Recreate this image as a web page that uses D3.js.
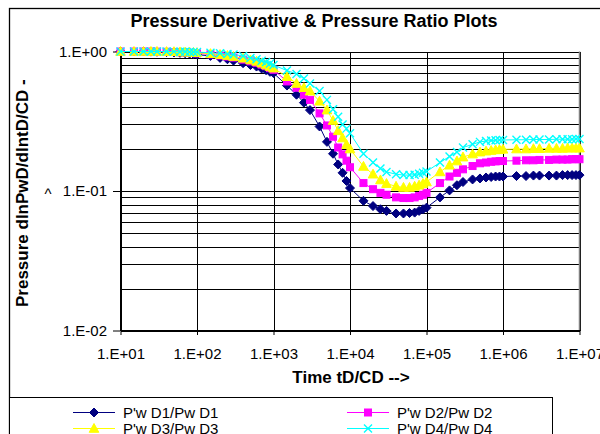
<!DOCTYPE html>
<html>
<head>
<meta charset="utf-8">
<script src="https://cdn.jsdelivr.net/npm/d3@7"></script>
<style>
  body { margin: 0; background: #fff; }
  svg text { font-family: "Liberation Sans", Arial, sans-serif; fill: #000; }
</style>
</head>
<body>
<div id="chart"></div>
<script>

// time tD/CD
var times = [
  10, 15, 20, 25, 30, 40, 50, 60, 70, 80, 90,
  100, 150, 200, 250, 300, 400, 500, 600, 700, 800, 900,
  1000, 1500, 2000, 2500, 3000, 4000, 5000, 6000, 7000, 8000, 9000,
  1e4, 1.5e4, 2e4, 2.5e4, 3e4, 4e4, 5e4, 6e4, 7e4, 8e4, 9e4,
  1e5, 1.5e5, 2e5, 2.5e5, 3e5, 4e5, 5e5, 6e5, 7e5, 8e5, 9e5,
  1e6, 1.5e6, 2e6, 2.5e6, 3e6, 4e6, 5e6, 6e6, 7e6, 8e6, 9e6,
  1e7
];

var pwD1 = [
  1.0, 1.0, 1.0, 0.998, 0.996, 0.99, 0.985, 0.978, 0.972, 0.966, 0.96,
  0.95, 0.93, 0.9, 0.88, 0.86, 0.825, 0.8, 0.78, 0.755, 0.735, 0.715,
  0.70, 0.57, 0.49, 0.43, 0.38, 0.29, 0.225, 0.185, 0.155, 0.135, 0.118,
  0.105, 0.085, 0.078, 0.074, 0.072, 0.069, 0.069, 0.0695, 0.070, 0.072, 0.074,
  0.076, 0.090, 0.101, 0.110, 0.116, 0.121, 0.123, 0.125, 0.126, 0.127, 0.127,
  0.127, 0.128, 0.128, 0.129, 0.129, 0.129, 0.129, 0.13, 0.13, 0.13, 0.13,
  0.13
];

var pwD2 = [
  1.0, 1.0, 1.0, 1.0, 0.998, 0.995, 0.992, 0.988, 0.984, 0.98, 0.975,
  0.97, 0.955, 0.935, 0.92, 0.905, 0.875, 0.85, 0.83, 0.805, 0.785, 0.76,
  0.74, 0.61, 0.55, 0.49, 0.45, 0.36, 0.295, 0.245, 0.205, 0.183, 0.165,
  0.148, 0.114, 0.103, 0.097, 0.094, 0.090, 0.089, 0.089, 0.090, 0.092, 0.094,
  0.097, 0.114, 0.127, 0.135, 0.143, 0.151, 0.158, 0.160, 0.162, 0.163, 0.164,
  0.164, 0.165, 0.166, 0.166, 0.167, 0.167, 0.168, 0.168, 0.168, 0.169, 0.169,
  0.169
];

var pwD3 = [
  1.0, 1.0, 1.0, 1.0, 1.0, 0.998, 0.996, 0.993, 0.99, 0.987, 0.984,
  0.98, 0.965, 0.95, 0.935, 0.92, 0.895, 0.87, 0.85, 0.825, 0.80, 0.78,
  0.76, 0.66, 0.59, 0.55, 0.52, 0.44, 0.38, 0.32, 0.27, 0.24, 0.215,
  0.20, 0.15, 0.132, 0.12, 0.113, 0.108, 0.106, 0.106, 0.108, 0.110, 0.113,
  0.116, 0.137, 0.153, 0.164, 0.175, 0.184, 0.190, 0.193, 0.195, 0.197, 0.198,
  0.199, 0.2, 0.2, 0.201, 0.201, 0.202, 0.202, 0.202, 0.203, 0.203, 0.203,
  0.203
];

var pwD4 = [
  1.0, 1.0, 1.0, 1.0, 1.0, 1.0, 0.998, 0.997, 0.995, 0.993, 0.991,
  0.99, 0.98, 0.97, 0.96, 0.95, 0.93, 0.90, 0.88, 0.86, 0.84, 0.82,
  0.80, 0.73, 0.69, 0.64, 0.59, 0.52, 0.45, 0.385, 0.34, 0.30, 0.28,
  0.259, 0.185, 0.16, 0.145, 0.137, 0.132, 0.130, 0.130, 0.131, 0.133, 0.135,
  0.138, 0.16, 0.177, 0.19, 0.205, 0.216, 0.225, 0.228, 0.23, 0.231, 0.232,
  0.232, 0.233, 0.233, 0.234, 0.234, 0.234, 0.235, 0.235, 0.235, 0.235, 0.236,
  0.236
];

var seriesNames = ["P'w D1/Pw D1", "P'w D2/Pw D2", "P'w D3/Pw D3", "P'w D4/Pw D4"];
var seriesColors = ["#000080", "#ff00ff", "#ffff00", "#00ffff"];
var seriesMarkers = ["diamond", "square", "triangle", "cross"];

var xTicks = [1e1, 1e2, 1e3, 1e4, 1e5, 1e6, 1e7];
var xTickLabels = ["1.E+01", "1.E+02", "1.E+03", "1.E+04", "1.E+05", "1.E+06", "1.E+07"];
var yTicks = [1, 0.1, 0.01];
var yTickLabels = ["1.E+00", "1.E-01", "1.E-02"];

var allSeries = [pwD1, pwD2, pwD3, pwD4];

// svg
var width = 600, height = 434;
var svg = d3.select('#chart')
  .append('svg')
  .attr('width', width)
  .attr('height', height);

// outer chart frame
svg.append('rect')
  .attr('x', 9.5).attr('y', 8.5)
  .attr('width', 700).attr('height', 600)
  .attr('fill', 'none')
  .attr('stroke', '#000')
  .attr('stroke-width', 1.3);

var x = d3.scaleLog().domain([10, 1e7]).range([120.5, 579.5]);
var y = d3.scaleLog().domain([0.01, 1]).range([330.5, 51.5]);

// horizontal gridlines (major + minor)
svg.append('g')
  .selectAll('line')
  .data(y.ticks())
  .enter().append('line')
  .attr('x1', x.range()[0]).attr('x2', x.range()[1])
  .attr('y1', function(d) { return Math.round(y(d)) + 0.5; })
  .attr('y2', function(d) { return Math.round(y(d)) + 0.5; })
  .attr('stroke', '#000')
  .attr('shape-rendering', 'crispEdges');

// vertical gridlines at decades
svg.append('g')
  .selectAll('line')
  .data(xTicks)
  .enter().append('line')
  .attr('x1', function(d) { return Math.round(x(d)) + 0.5; })
  .attr('x2', function(d) { return Math.round(x(d)) + 0.5; })
  .attr('y1', y.range()[1]).attr('y2', y.range()[0])
  .attr('stroke', '#000')
  .attr('shape-rendering', 'crispEdges');

// right border of plot area
svg.append('line')
  .attr('x1', 579.5).attr('x2', 579.5)
  .attr('y1', 51.5).attr('y2', 330.5)
  .attr('stroke', '#808080')
  .attr('stroke-width', 1.5);

// x axis
var xAxis = d3.axisBottom(x)
  .tickValues(xTicks)
  .tickSizeInner(5)
  .tickSizeOuter(0)
  .tickPadding(13)
  .tickFormat(function(d, i) { return xTickLabels[i]; });

var gx = svg.append('g')
  .attr('transform', 'translate(0,330)')
  .call(xAxis);
gx.selectAll('text').style('font-size', '15px');
gx.selectAll('.tick line').attr('stroke', '#000');
gx.select('.domain').attr('stroke', '#000');

// y axis
var yAxis = d3.axisLeft(y)
  .tickValues(yTicks)
  .tickSizeInner(7)
  .tickSizeOuter(0)
  .tickPadding(6)
  .tickFormat(function(d, i) { return yTickLabels[i]; });

var gy = svg.append('g')
  .attr('transform', 'translate(120,0)')
  .call(yAxis);
gy.selectAll('text').style('font-size', '15px');
gy.selectAll('.tick line').attr('stroke', '#000');
gy.select('.domain').attr('stroke', '#000');

// stray caret in front of 1.E-01
svg.append('text')
  .attr('x', 48).attr('y', y(0.1) + 8)
  .attr('text-anchor', 'middle')
  .style('font-size', '15px')
  .text('^');

// titles
svg.append('text')
  .attr('x', 314).attr('y', 27)
  .attr('text-anchor', 'middle')
  .style('font-size', '18px')
  .style('font-weight', 'bold')
  .text('Pressure Derivative & Pressure Ratio Plots');

svg.append('text')
  .attr('x', 351).attr('y', 383)
  .attr('text-anchor', 'middle')
  .style('font-size', '17px')
  .style('font-weight', 'bold')
  .text('Time tD/CD -->');

svg.append('text')
  .attr('transform', 'translate(28,307) rotate(-90)')
  .attr('text-anchor', 'start')
  .style('font-size', '17px')
  .style('font-weight', 'bold')
  .text('Pressure dlnPwD/dlntD/CD -');

// markers
function drawMarker(g, type, color) {
  if (type == 'diamond') {
    g.append('path').attr('d', 'M0,-4.5L4.5,0L0,4.5L-4.5,0Z')
      .attr('fill', color).attr('stroke', color);
  } else if (type == 'square') {
    g.append('rect').attr('x', -3.5).attr('y', -3.5)
      .attr('width', 7).attr('height', 7)
      .attr('fill', color).attr('stroke', color);
  } else if (type == 'triangle') {
    g.append('path').attr('d', 'M0,-5L4.8,3.8L-4.8,3.8Z')
      .attr('fill', color).attr('stroke', color);
  } else {
    g.append('path').attr('d', 'M-4,-4L4,4M-4,4L4,-4')
      .attr('fill', 'none').attr('stroke', color).attr('stroke-width', 1.4);
  }
}

var line = d3.line()
  .x(function(d) { return x(d.t); })
  .y(function(d) { return y(d.v); });

allSeries.forEach(function(vals, s) {
  var pts = times.map(function(t, i) { return {t: t, v: vals[i]}; });
  var g = svg.append('g').attr('class', 'series');
  g.append('path')
    .datum(pts)
    .attr('d', line)
    .attr('fill', 'none')
    .attr('stroke', seriesColors[s])
    .attr('stroke-width', 1);
  g.selectAll('g.pt')
    .data(pts)
    .enter().append('g')
    .attr('class', 'pt')
    .attr('transform', function(d) { return 'translate(' + x(d.t) + ',' + y(d.v) + ')'; })
    .each(function() { drawMarker(d3.select(this), seriesMarkers[s], seriesColors[s]); });
});

// legend
svg.append('rect')
  .attr('x', 9.5).attr('y', 397.5)
  .attr('width', 543).attr('height', 60)
  .attr('fill', '#fff')
  .attr('stroke', '#000');

var legendPos = [
  {lx: 73, ty: 418}, {lx: 347, ty: 418},
  {lx: 73, ty: 434}, {lx: 347, ty: 434}
];

seriesNames.forEach(function(name, s) {
  var p = legendPos[s];
  var cy = p.ty - 5.5;
  var g = svg.append('g');
  g.append('line')
    .attr('x1', p.lx).attr('x2', p.lx + 42)
    .attr('y1', cy).attr('y2', cy)
    .attr('stroke', seriesColors[s]);
  var m = g.append('g').attr('transform', 'translate(' + (p.lx + 21) + ',' + cy + ')');
  drawMarker(m, seriesMarkers[s], seriesColors[s]);
  g.append('text')
    .attr('x', p.lx + 50).attr('y', p.ty)
    .style('font-size', '15px')
    .text(name);
});

</script>
</body>
</html>
